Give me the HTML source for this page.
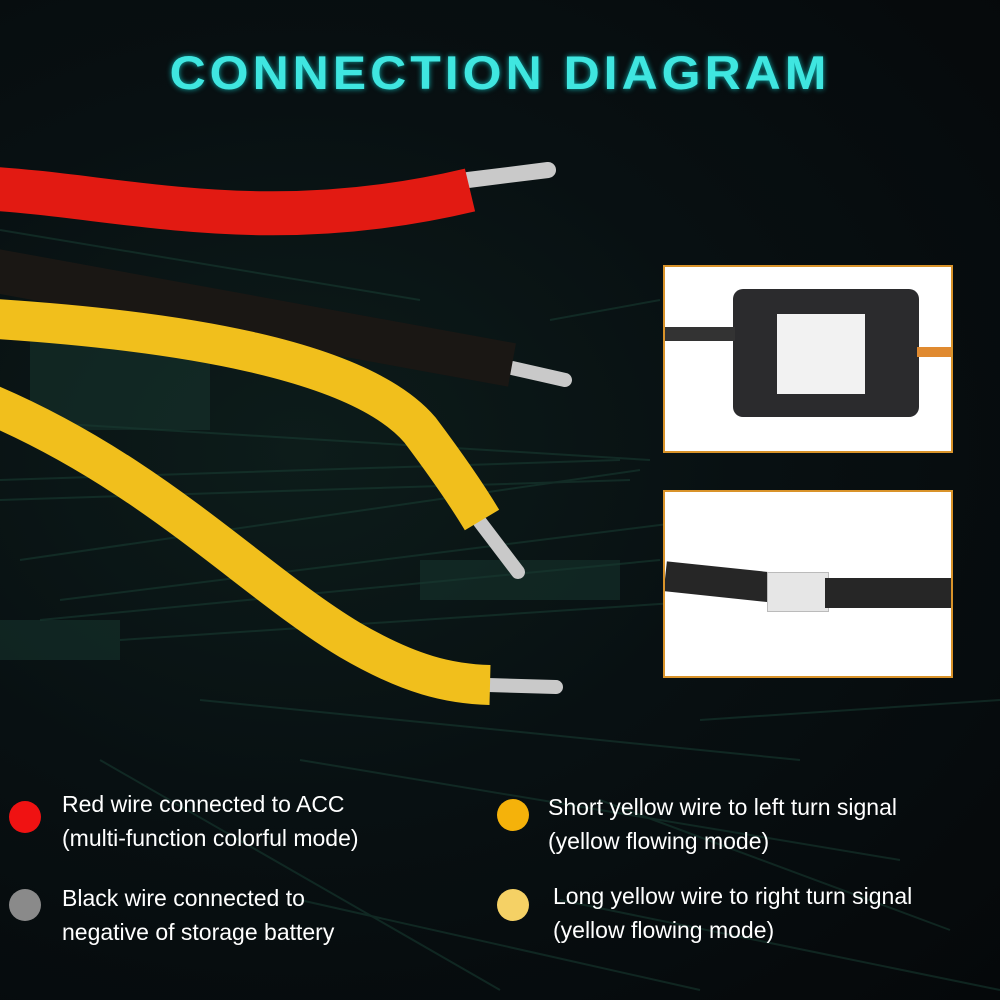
<!DOCTYPE html>
<html><head><meta charset="utf-8"><style>
html,body{margin:0;padding:0;background:#070b0e;}
#c{position:relative;width:1000px;height:1000px;overflow:hidden;background:radial-gradient(ellipse at 30% 45%,#0d1c1a 0%,#081012 45%,#05080a 100%);font-family:"Liberation Sans",sans-serif;}
.title{position:absolute;top:44px;left:0;width:1000px;text-align:center;color:#3fe6e0;font-size:50px;font-weight:bold;letter-spacing:4px;text-shadow:0 0 6px #1aa;transform:scaleY(0.95);}
.box{position:absolute;left:663px;width:290px;height:188px;background:#fff;border:2px solid #d9932a;box-sizing:border-box;overflow:hidden;}
.dot{position:absolute;width:32px;height:32px;border-radius:50%;}
.t{position:absolute;color:#fff;font-size:23px;line-height:34px;}
</style></head><body><div id="c">
<svg width="1000" height="1000" style="position:absolute;left:0;top:0">
<g stroke="#1a4236" stroke-width="2" fill="none" opacity="0.5">
<path d="M0 230 L420 300 M0 420 L650 460 M20 560 L640 470 M60 600 L700 520 M120 640 L720 600 M200 700 L800 760 M300 760 L900 860 M100 760 L500 990 M550 320 L660 300 M560 900 L1000 990 M700 720 L1000 700"/>
<path d="M0 480 L620 460 M0 500 L630 480 M40 620 L660 560 M300 900 L700 990 M600 800 L950 930"/>
</g>
<g fill="#17382f" opacity="0.5">
<rect x="30" y="330" width="180" height="100"/><rect x="0" y="620" width="120" height="40"/><rect x="420" y="560" width="200" height="40"/>
</g>
<g stroke="#c9c9c9" stroke-linecap="round" fill="none">
<path d="M468 180 L548 170" stroke-width="16"/>
<path d="M512 368 L565 380" stroke-width="14"/>
<path d="M480 522 L518 572" stroke-width="14"/>
<path d="M488 685 L556 687" stroke-width="14"/>
</g>
<g fill="none">
<path d="M-20 188 C120 195 260 240 470 190" stroke="#e21a12" stroke-width="44"/>
<path d="M-20 268 C150 300 320 330 512 365" stroke="#1a1714" stroke-width="44"/>
<path d="M-20 318 C180 330 360 360 420 430 C450 470 470 500 482 520" stroke="#f1bf1c" stroke-width="40"/>
<path d="M-20 400 C150 470 250 580 350 640 C410 675 450 684 490 685" stroke="#f1bf1c" stroke-width="40"/>
</g>
</svg>
<div class="title">CONNECTION DIAGRAM</div>
<div class="box" style="top:265px">
<div style="position:absolute;left:68px;top:22px;width:186px;height:128px;background:#2b2b2d;border-radius:10px;"></div>
<div style="position:absolute;left:112px;top:47px;width:88px;height:80px;background:#f2f2f2;"></div>
<div style="position:absolute;left:0;top:60px;width:70px;height:14px;background:#333;"></div>
<div style="position:absolute;left:252px;top:80px;width:40px;height:10px;background:#e08a30;"></div>
</div>
<div class="box" style="top:490px">
<div style="position:absolute;left:0;top:75px;width:110px;height:30px;background:#262626;transform:rotate(6deg);"></div>
<div style="position:absolute;left:110px;top:90px;width:40px;height:12px;background:#e2a43a;"></div>
<div style="position:absolute;left:102px;top:80px;width:60px;height:38px;background:#e6e6e6;border:1px solid #bbb;"></div>
<div style="position:absolute;left:160px;top:86px;width:130px;height:30px;background:#262626;"></div>
</div>
<div class="dot" style="left:9px;top:801px;background:#f01212"></div>
<div class="dot" style="left:9px;top:889px;background:#8a8a8a"></div>
<div class="dot" style="left:497px;top:799px;background:#f5b20a"></div>
<div class="dot" style="left:497px;top:889px;background:#f5d165"></div>
<div class="t" style="left:62px;top:787px">Red wire connected to ACC<br>(multi-function colorful mode)</div>
<div class="t" style="left:62px;top:881px">Black wire connected to<br>negative of storage battery</div>
<div class="t" style="left:548px;top:790px">Short yellow wire to left turn signal<br>(yellow flowing mode)</div>
<div class="t" style="left:553px;top:879px">Long yellow wire to right turn signal<br>(yellow flowing mode)</div>
</div></body></html>
